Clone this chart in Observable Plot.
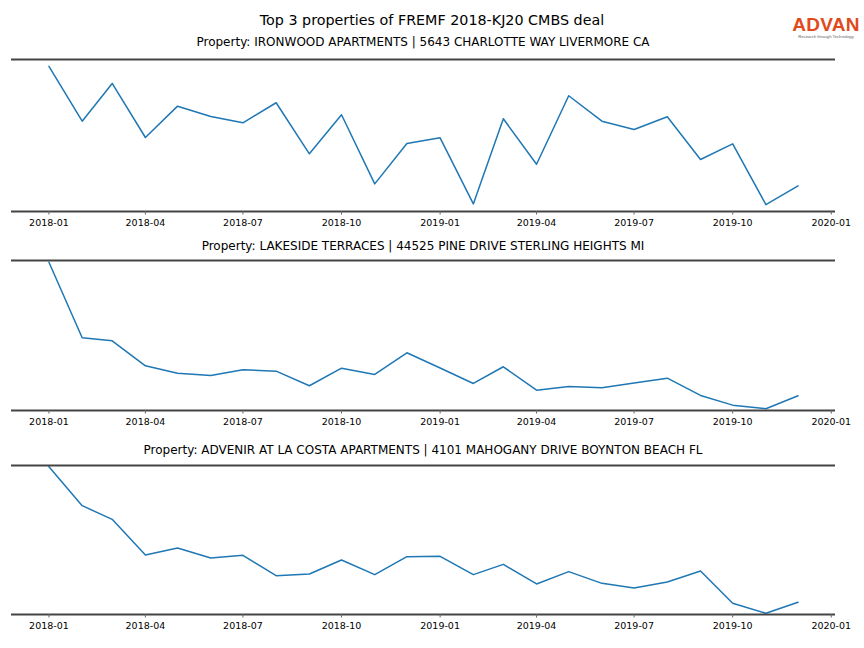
<!DOCTYPE html>
<html><head><meta charset="utf-8">
<script src="https://cdn.jsdelivr.net/npm/d3@7"></script>
<script src="https://cdn.jsdelivr.net/npm/@observablehq/plot@0.6"></script>
<style>
body{margin:0;background:#fff;font-family:"DejaVu Sans",sans-serif;}
#root{position:relative;width:864px;height:648px;overflow:hidden;background:#fff;}
.t{position:absolute;text-align:center;color:#000;white-space:nowrap;height:20px;line-height:20px;}
.p{position:absolute;left:0;}
.logo{position:absolute;left:791px;top:15px;width:70px;text-align:center;}
.logo .a{font-family:"Liberation Sans",sans-serif;font-weight:700;font-size:19px;color:#e04a1c;letter-spacing:0.3px;line-height:20px;}
.logo .b{font-family:"Liberation Sans",sans-serif;font-size:4.2px;color:#666;line-height:5px;margin-top:-1px;}
</style></head><body><div id="root"></div>
<script>
const mainTitle = "Top 3 properties of FREMF 2018-KJ20 CMBS deal";
const panelTitles = [
  "Property: IRONWOOD APARTMENTS | 5643 CHARLOTTE WAY LIVERMORE CA",
  "Property: LAKESIDE TERRACES | 44525 PINE DRIVE STERLING HEIGHTS MI",
  "Property: ADVENIR AT LA COSTA APARTMENTS | 4101 MAHOGANY DRIVE BOYNTON BEACH FL"
];
const months = ["2018-01","2018-02","2018-03","2018-04","2018-05","2018-06","2018-07","2018-08","2018-09","2018-10","2018-11","2018-12",
                "2019-01","2019-02","2019-03","2019-04","2019-05","2019-06","2019-07","2019-08","2019-09","2019-10","2019-11","2019-12"];
const ironwood = [145, 90.3, 128, 74, 105.3, 95, 88.7, 108.7, 57.7, 96.7, 27.7, 68, 73.7, 7.7, 92.7, 47.3, 115.7, 90.3, 82, 94.7, 52, 67.7, 7, 25.7];
const lakeside = [148.3, 72.7, 69.7, 44.7, 37.3, 35, 40.7, 39.3, 24.7, 42.3, 36, 57.7, 42.5, 27, 43.7, 20.3, 24, 22.7, 27.5, 32.3, 15, 5.3, 1.7, 14.7];
const advenir = [148, 109, 95.3, 59.7, 66.7, 56.7, 59.3, 39, 40.7, 54.7, 40, 58, 58.3, 40, 50.3, 30.7, 43, 31.3, 26.7, 32.7, 43.7, 11.3, 1.3, 12.3];
const tickLabels = ["2018-01","2018-04","2018-07","2018-10","2019-01","2019-04","2019-07","2019-10","2020-01"];

const parse = d3.utcParse("%Y-%m");
const dates = months.map(parse);
const ticks = tickLabels.map(parse);
const t0 = +dates[0], t1 = +dates[dates.length - 1];
const xDomain = [new Date(t0 - 0.05 * (t1 - t0)), new Date(t1 + 0.05 * (t1 - t0))];

const root = document.getElementById("root");
function addText(txt, cx, cy, size) {
  const d = document.createElement("div");
  d.className = "t";
  d.style.left = (cx - 450) + "px";
  d.style.width = "900px";
  d.style.top = (cy - 10) + "px";
  d.style.fontSize = size + "px";
  d.textContent = txt;
  root.appendChild(d);
}
addText(mainTitle, 432, 19.5, 14.3);

const logo = document.createElement("div");
logo.className = "logo";
logo.innerHTML = '<div class="a">ADVAN</div><div class="b">Research through Technology</div>';
root.appendChild(logo);

const panels = [
  {values: ironwood, pad: 0.05, titleY: 42, spineTop: 59, spineBottom: 211},
  {values: lakeside, pad: 0.012, titleY: 246, spineTop: 260, spineBottom: 410},
  {values: advenir, pad: 0.008, titleY: 450, spineTop: 465, spineBottom: 614}
];
const mL = 11, mR = 29;

panels.forEach((p, i) => {
  addText(panelTitles[i], (mL + 864 - mR) / 2, p.titleY, 12);
  const data = dates.map((d, j) => ({date: d, value: p.values[j]}));
  const lo = d3.min(p.values), hi = d3.max(p.values);
  const yDomain = [lo - p.pad * (hi - lo), hi + p.pad * (hi - lo)];
  const mt = 10, mb = 30;
  const chart = Plot.plot({
    width: 864,
    height: (p.spineBottom - p.spineTop) + mt + mb,
    marginTop: mt, marginBottom: mb, marginLeft: mL, marginRight: mR,
    style: {fontFamily: "DejaVu Sans, sans-serif", fontSize: "9.5px", background: "transparent", color: "#000"},
    x: {type: "utc", domain: xDomain},
    y: {domain: yDomain, axis: null},
    marks: [
      Plot.line(data, {x: "date", y: "value", stroke: "#1f77b4", strokeWidth: 1.5}),
      Plot.ruleY(yDomain, {stroke: "#444", strokeWidth: 2}),
      Plot.axisX({ticks: ticks, tickFormat: d3.utcFormat("%Y-%m"), tickSize: 3.5, tickPadding: 4, stroke: "#666", fill: "#000", label: null})
    ]
  });
  chart.classList.add("p");
  chart.style.top = (p.spineTop - mt) + "px";
  root.appendChild(chart);
});
</script></body></html>
